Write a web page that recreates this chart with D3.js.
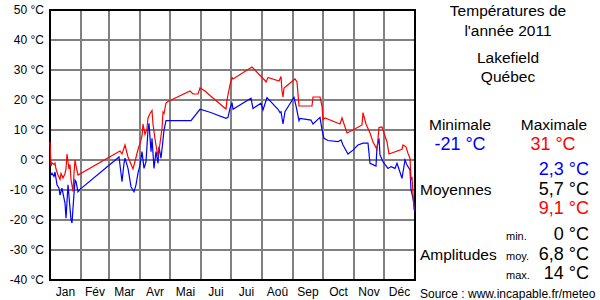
<!DOCTYPE html>
<html>
<head>
<meta charset="utf-8">
<script src="https://cdn.jsdelivr.net/npm/d3@7"></script>
<style>
  body { margin: 0; background: #fff; }
  svg text { font-family: "Liberation Sans", Arial, sans-serif; }
</style>
</head>
<body>
<div id="chart"></div>
<script>
// Températures 2011 - Lakefield, Québec

const monthNames = ['Jan', 'Fév', 'Mar', 'Avr', 'Mai', 'Jui', 'Jui', 'Aoû', 'Sep', 'Oct', 'Nov', 'Déc'];
const monthStarts = [0, 31, 59, 90, 120, 151, 181, 212, 243, 273, 304, 334, 365];
const tempTicks = [50, 40, 30, 20, 10, 0, -10, -20, -30, -40];

// daily maxima (day of year, °C)
const maxDays = [0, 1, 2, 4, 5, 6, 8, 10, 11, 13, 15, 16, 17, 19, 20, 21, 23, 24, 25, 26, 28,
  70, 72, 75, 78, 83, 85, 88, 90, 92, 93, 95, 97, 98, 100, 102, 103, 105, 107, 108, 110, 112, 113,
  114, 116, 118, 140, 143, 148, 150, 155, 160, 176, 177, 180, 182, 183, 202, 215, 216, 218, 229,
  231, 232, 233, 234, 245, 247, 249, 262, 263, 270, 272, 273, 275, 290, 292, 297, 303, 312, 313,
  316, 320, 323, 327, 329, 332, 334, 337, 339, 352, 353, 356, 358, 360, 361, 362, 364];
const maxTemps = [6, -2, -1, -1.5, -1, -3, -5, -6.5, -4.5, -6, -4.5, -3, 2, -3, -1.5, -6.5, -10.5, -4.5, 0, -2, -5,
  3, 2, 5, 1, -3, -0.5, 3.5, 5.5, 8, 12, 8.5, 10.5, 14, 15.5, 16.5, 12, 7, 3, 1.5, 5.5, 10.5, 16,
  15.5, 19, 19.5, 23, 22, 22, 24, 23, 21.5, 17, 20, 25, 27.5, 27, 31, 26.5, 26, 27.5, 26.3,
  27.8, 23, 21, 24, 27, 26, 18, 18, 21, 21, 18, 13.5, 14, 12, 14, 9, 10, 11.7, 15.8,
  12, 9, 6, 3.5, 10.8, 11, 9, 6, 2, 3.6, 5, 4.4, 2.2, 0.6, -6.7, -5.6, -16.7];

// daily minima (day of year, °C)
const minDays = [0, 2, 4, 5, 7, 9, 10, 12, 14, 15, 16, 18, 19, 21, 22, 23, 25, 26, 28, 30,
  69, 71, 72, 74, 75, 78, 81, 84, 86, 88, 90, 92, 94, 96, 98, 99, 101, 102, 104, 106, 108, 109,
  111, 113, 114, 116, 141, 150, 160, 176, 178, 180, 182, 183, 201, 203, 211, 213, 217, 228, 230,
  231, 233, 235, 244, 246, 249, 250, 261, 263, 270, 272, 274, 278, 288, 291, 293, 298, 303, 308,
  313, 318, 320, 326, 327, 329, 330, 333, 338, 341, 345, 347, 352, 355, 357, 360, 361, 363, 365];
const minTemps = [-5.5, -4.4, -5.5, -4, -8.3, -9.4, -11.7, -9.4, -12.8, -14.4, -19.4, -8.3, -12.2, -20, -21, -16, -6.7, -7.2, -10.6, -9.8,
  1, -4.4, -7.2, -1.1, 0.6, -2.8, -8.9, -10.6, -8.3, -4.4, -1.7, 2.8, -2.8, -0.6, 10, 12.2, 2.8,
  7.2, -2.8, 2.8, -1.1, 4.4, 0.6, 6.7, 10, 13.1, 13.1, 16.9, 15.9, 13.9, 14.2, 17.2, 19.1, 16.9,
  20.6, 17.2, 18.9, 16.7, 20.8, 16.9, 15.8, 16.1, 12, 16.1, 20.9, 18, 13.1, 13.9, 13.3, 12, 14.2,
  10, 7.2, 6.5, 6.1, 6.7, 5, 2, 3.3, 5, 5.6, 5.6, -1.1, -2, 4.4, 7.2, 1.7, -0.6, -2.8, -2.2, -2.8,
  -1.1, -6.1, 0, -1.7, -3.3, -10, -12.8, -17.2];

const stats = {
  min: '-21 °C', max: '31 °C',
  meanMin: '2,3 °C', mean: '5,7 °C', meanMax: '9,1 °C',
  ampMin: '0 °C', ampMean: '6,8 °C', ampMax: '14 °C'
};

////////////////////////////////////////////////////////////////////////////////
// Setup
const width = 600;
const height = 300;
const plot = { left: 50, top: 10, right: 415, bottom: 280 };

const svg = d3.select('#chart').append('svg')
  .attr('width', width)
  .attr('height', height);

const xScale = d3.scaleLinear()
  .domain([0, 365])
  .range([plot.left, plot.right]);
const yScale = d3.scaleLinear()
  .domain([-40, 50])
  .range([plot.bottom, plot.top]);

// Grid
const grid = svg.append('g')
  .attr('stroke', '#808080')
  .attr('stroke-width', 2);

grid.selectAll('line.h')
  .data(tempTicks.slice(1, -1))
  .enter().append('line')
  .attr('class', 'h')
  .attr('x1', plot.left)
  .attr('x2', plot.right)
  .attr('y1', d => yScale(d))
  .attr('y2', d => yScale(d));

grid.selectAll('line.v')
  .data(monthStarts.slice(1, -1))
  .enter().append('line')
  .attr('class', 'v')
  .attr('x1', d => xScale(d))
  .attr('x2', d => xScale(d))
  .attr('y1', plot.top)
  .attr('y2', plot.bottom);

// Frame
svg.append('rect')
  .attr('x', plot.left)
  .attr('y', plot.top)
  .attr('width', plot.right - plot.left)
  .attr('height', plot.bottom - plot.top)
  .attr('fill', 'none')
  .attr('stroke', '#000')
  .attr('stroke-width', 2);

// Y labels
svg.append('g')
  .selectAll('text')
  .data(tempTicks)
  .enter().append('text')
  .attr('x', 44)
  .attr('y', d => yScale(d) + 4)
  .attr('text-anchor', 'end')
  .attr('font-size', 12)
  .text(d => d + ' °C');

// Month labels
svg.append('g')
  .selectAll('text')
  .data(monthNames)
  .enter().append('text')
  .attr('x', (d, i) => xScale((monthStarts[i] + monthStarts[i + 1]) / 2))
  .attr('y', 296)
  .attr('text-anchor', 'middle')
  .attr('font-size', 12)
  .text(d => d);

// Lines
const line = d3.line()
  .x(d => xScale(d[0]))
  .y(d => yScale(d[1]));

const maxSeries = maxDays.map((d, i) => [d, maxTemps[i]]);
const minSeries = minDays.map((d, i) => [d, minTemps[i]]);

svg.append('path')
  .datum(minSeries)
  .attr('fill', 'none')
  .attr('stroke', '#0000ff')
  .attr('stroke-width', 1.2)
  .attr('d', line);

svg.append('path')
  .datum(maxSeries)
  .attr('fill', 'none')
  .attr('stroke', '#ff0000')
  .attr('stroke-width', 1.2)
  .attr('d', line);

// Side panel
function label (x, y, txt, opts) {
  opts = opts || {};
  svg.append('text')
    .attr('x', x)
    .attr('y', y)
    .attr('text-anchor', opts.anchor || 'middle')
    .attr('font-size', opts.size || 15.5)
    .attr('fill', opts.color || '#000')
    .text(txt);
}

label(508, 16, 'Températures de');
label(508, 36, "l'année 2011");
label(508, 63, 'Lakefield');
label(508, 82, 'Québec');
label(460, 130, 'Minimale');
label(554, 130, 'Maximale');
label(460, 150, stats.min, { size: 18, color: '#0000ff' });
label(553, 150, stats.max, { size: 18, color: '#ff0000' });

label(589, 175, stats.meanMin, { size: 18, color: '#0000ff', anchor: 'end' });
label(589, 195, stats.mean, { size: 18, anchor: 'end' });
label(589, 214, stats.meanMax, { size: 18, color: '#ff0000', anchor: 'end' });
label(420, 195, 'Moyennes', { anchor: 'start' });

label(506, 240, 'min.', { size: 11, anchor: 'start' });
label(506, 260, 'moy.', { size: 11, anchor: 'start' });
label(506, 279, 'max.', { size: 11, anchor: 'start' });
label(589, 240, stats.ampMin, { size: 18, anchor: 'end' });
label(589, 260, stats.ampMean, { size: 18, anchor: 'end' });
label(589, 279, stats.ampMax, { size: 18, anchor: 'end' });
label(420, 260, 'Amplitudes', { anchor: 'start' });

label(420, 298, 'Source : www.incapable.fr/meteo', { size: 12, anchor: 'start' });
</script>
</body>
</html>
